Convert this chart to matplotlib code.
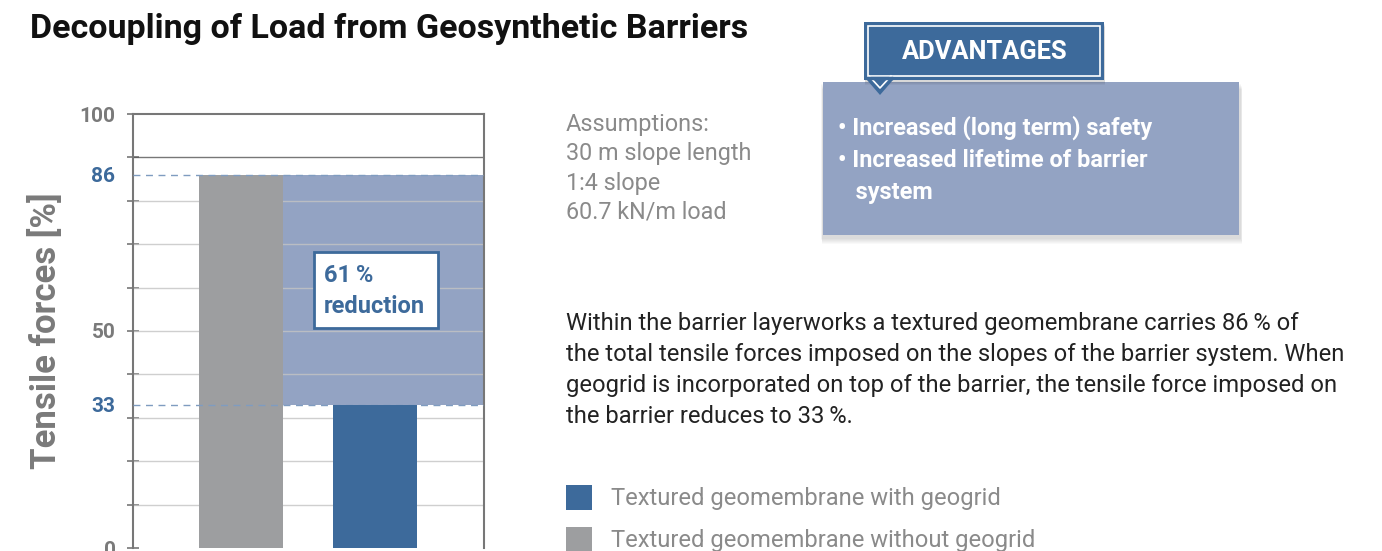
"""Decoupling of load from geosynthetic barriers: bar chart with side panel."""

import matplotlib

matplotlib.use("Agg")
import matplotlib.pyplot as plt  # noqa: E402
from matplotlib.patches import Rectangle, Polygon  # noqa: E402

# data
categories = ["Textured geomembrane without geogrid", "Textured geomembrane with geogrid"]
values = [86, 33]
reduction_label = "61\u2009%\nreduction"
yticks_major = [0, 10, 20, 30, 40, 50, 60, 70, 80, 90, 100]
ylabels_shown = {0: "0", 33: "33", 50: "50", 86: "86", 100: "100"}
assumptions = ["Assumptions:", "30 m slope length", "1:4 slope", "60.7 kN/m load"]
paragraph = [
    "Within the barrier layerworks a textured geomembrane carries 86\u2009% of",
    "the total tensile forces imposed on the slopes of the barrier system. When",
    "geogrid is incorporated on top of the barrier, the tensile force imposed on",
    "the barrier reduces to 33\u2009%.",
]
advantages = ["• Increased (long term) safety", "• Increased lifetime of barrier", "   system"]
legend_labels = ["Textured geomembrane with geogrid", "Textured geomembrane without geogrid"]

BLUE = "#3d6a9b"
GREY_BAR = "#9d9ea0"
SHADE = "#93a3c3"
TXT_GREY = "#7a7a7a"

plt.rcParams["font.family"] = ["Roboto", "DejaVu Sans"]

W, H = 1382, 551
fig = plt.figure(figsize=(W / 100, H / 100), dpi=100)

# overlay in pixel coordinates for the text panel
bg = fig.add_axes([0, 0, 1, 1])
bg.set_xlim(0, W)
bg.set_ylim(H, 0)
bg.axis("off")

bg.text(30, 38, "Decoupling of Load from Geosynthetic Barriers", fontsize=24.5,
        fontweight="bold", color="#111111", va="baseline")

for i, line in enumerate(assumptions):
    bg.text(566, 131 + i * 29.3, line, fontsize=16.8, color="#8a8a8a", va="baseline")

for i, line in enumerate(paragraph):
    bg.text(566, 330 + i * 31, line, fontsize=17.1, color="#222222", va="baseline")

# advantages panel with soft shadow
for k in range(6):
    bg.add_patch(Rectangle((823 - 2 + k * 0.3, 82 + 2 + k), 416 + 4, 153 + 2,
                           facecolor="#000000", alpha=0.025, lw=0))
bg.add_patch(Rectangle((823, 82), 416, 153, facecolor=SHADE, lw=0))
for k in range(4):
    bg.add_patch(Rectangle((864 + 1, 22 + 2 + k), 240, 58, facecolor="#000000",
                           alpha=0.04, lw=0))
bg.add_patch(Rectangle((864, 22), 240, 58, facecolor=BLUE, lw=0))
bg.add_patch(Rectangle((868, 26), 232, 50, facecolor="none", edgecolor="white", lw=1.2))
bg.add_patch(Polygon([(867, 80), (893, 80), (880, 95)], closed=True, facecolor=BLUE, lw=0))
bg.plot([869, 880, 891], [76, 88, 76], color="white", lw=1.2)
bg.plot([869, 891], [78, 78], color=BLUE, lw=2.5)
bg.text(985, 52, "ADVANTAGES", fontsize=18.4, fontweight="bold", color="white",
        ha="center", va="center")
for i, line in enumerate(advantages):
    bg.text(838, 135 + i * 32, line, fontsize=16.9, fontweight="bold", color="white",
            va="baseline")

# legend
bg.add_patch(Rectangle((566, 485), 26, 25, facecolor=BLUE, lw=0))
bg.add_patch(Rectangle((566, 527), 26, 25, facecolor=GREY_BAR, lw=0))
bg.text(611, 505, legend_labels[0], fontsize=17.1, color="#8a8a8a", va="baseline")
bg.text(611, 547, legend_labels[1], fontsize=17.1, color="#8a8a8a", va="baseline")

# chart axes
ax_l, ax_r, ax_t, ax_b = 133, 484, 114, 548
ax = fig.add_axes([ax_l / W, (H - ax_b) / H, (ax_r - ax_l) / W, (ax_b - ax_t) / H])
ax.patch.set_alpha(0)
x = [0, 1]
bw = 0.627
ax.set_xlim(-0.806, 1.813)
ax.set_ylim(0, 100)

ax.fill_between([x[0] + bw / 2, 1.813], values[1], values[0], color=SHADE, lw=0, zorder=1)
for yv in yticks_major[1:-1]:
    c = "#555555" if yv == 90 else "#c4c4c4"
    ax.axhline(yv, color=c, lw=1.0, alpha=0.8, zorder=2)
ax.bar(x[0], values[0], width=bw, color=GREY_BAR, zorder=3)
for yv in values:
    ax.axhline(yv, color="#7f9cc0", lw=1.0, ls=(0, (5, 4)), zorder=4)
ax.bar(x[1], values[1], width=bw, color=BLUE, zorder=5)

ax.add_patch(Rectangle((0.545, 50.7), 0.925, 17.5, facecolor="white", edgecolor=BLUE,
                       lw=2, zorder=6))
ax.text(0.62, 59.3, reduction_label, fontsize=17, fontweight="bold", color=BLUE,
        va="center", ha="left", linespacing=1.45, zorder=7)

ax.set_xticks([])
ax.set_yticks(yticks_major, minor=False)
ax.set_yticklabels([ylabels_shown.get(t, "") for t in yticks_major])
ax.set_yticks([33, 86], minor=True)
ax.set_yticklabels(["33", "86"], minor=True)
ax.tick_params(axis="y", which="major", direction="inout", length=9, width=1.2,
               color="#777777", labelsize=15, labelcolor=TXT_GREY, pad=8)
ax.tick_params(axis="y", which="minor", length=0, labelsize=15, labelcolor=BLUE, pad=13)
for lab in ax.get_yticklabels() + ax.get_yticklabels(minor=True):
    lab.set_fontweight("bold")
for s in ["left", "right", "top"]:
    ax.spines[s].set_color("#777777")
    ax.spines[s].set_linewidth(1.5)
ax.spines["bottom"].set_visible(False)
ax.set_ylabel("Tensile forces [%]", fontsize=25, fontweight="bold", color=TXT_GREY,
              labelpad=12)

fig.savefig("out.png", dpi=100)
